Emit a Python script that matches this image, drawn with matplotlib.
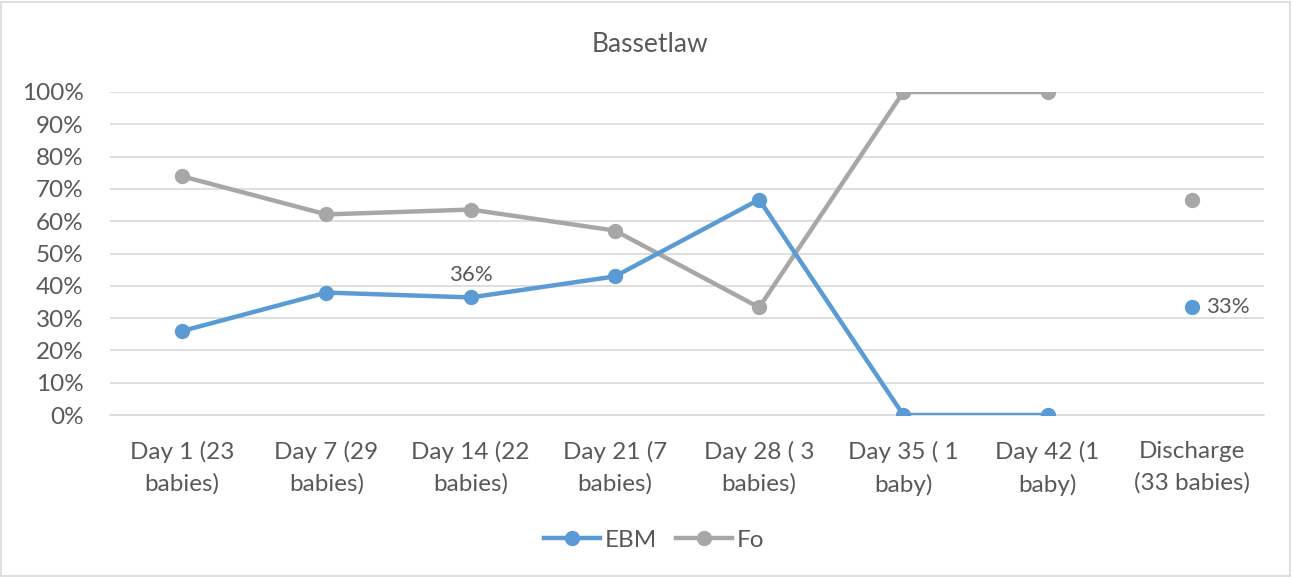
import matplotlib.pyplot as plt
from matplotlib.lines import Line2D
from matplotlib.patches import Rectangle
from matplotlib.ticker import PercentFormatter

plt.rcParams['font.family'] = ['Lato', 'DejaVu Sans']

categories = ['Day 1 (23\nbabies)', 'Day 7 (29\nbabies)', 'Day 14 (22\nbabies)',
              'Day 21 (7\nbabies)', 'Day 28 ( 3\nbabies)', 'Day 35 ( 1\nbaby)',
              'Day 42 (1\nbaby)', 'Discharge\n(33 babies)']
ebm = [0.26, 0.379, 0.364, 0.429, 0.667, 0.0, 0.0, 0.333]
fo = [0.739, 0.621, 0.636, 0.571, 0.333, 1.0, 1.0, 0.667]

blue = '#5B9BD5'
grey = '#A9A6A6'
txt = '#595959'
fs = 17.5

fig = plt.figure(figsize=(12.92, 5.77), dpi=100)
ax = fig.add_axes([110 / 1292, 1 - 415 / 577, 1154 / 1292, 323 / 577])

x = list(range(len(categories)))
# the last point (discharge) is not joined to the line
ax.plot(x[:7], ebm[:7], color=blue, lw=3.2, marker='o', ms=10, zorder=3)
ax.plot(x[7:], ebm[7:], color=blue, lw=0, marker='o', ms=10, zorder=3)
ax.plot(x[:7], fo[:7], color=grey, lw=3.2, marker='o', ms=10, zorder=2)
ax.plot(x[7:], fo[7:], color=grey, lw=0, marker='o', ms=10, zorder=2)

ax.annotate('36%', (x[2], ebm[2]), xytext=(0, 9), textcoords='offset points',
            ha='center', va='bottom', color=txt, fontsize=fs - 1.5)
ax.annotate('33%', (x[7], ebm[7]), xytext=(10, 0), textcoords='offset points',
            ha='left', va='center', color=txt, fontsize=fs - 1.5)

ax.set_xlim(-0.5, len(categories) - 0.5)
ax.set_ylim(0, 1)
ax.set_yticks([i / 10 for i in range(11)])
ax.yaxis.set_major_formatter(PercentFormatter(1.0, decimals=0))
ax.set_xticks(x)
ax.set_xticklabels(categories, linespacing=1.6)
ax.tick_params(axis='both', length=0, colors=txt, labelsize=fs)
ax.tick_params(axis='x', pad=18.5)
ax.tick_params(axis='y', pad=19)
ax.grid(axis='y', color='#D9D9D9', lw=1.2)
ax.set_axisbelow(True)
for s in ['top', 'right', 'left']:
    ax.spines[s].set_visible(False)
ax.spines['bottom'].set_color('#D9D9D9')
ax.spines['bottom'].set_linewidth(1.2)

fig.text(650 / 1292, 1 - 44 / 577, 'Bassetlaw', ha='center', va='center',
         color=txt, fontsize=fs + 1.5)

handles = [Line2D([], [], color=blue, lw=3.2, marker='o', ms=10),
           Line2D([], [], color=grey, lw=3.2, marker='o', ms=10)]
fig.legend(handles, ['EBM', 'Fo'], loc='center', bbox_to_anchor=(654 / 1292, 1 - 540 / 577),
           ncol=2, frameon=False, fontsize=fs, labelcolor=txt, handlelength=2.3,
           handletextpad=0.2, columnspacing=0.8)

fig.patches.append(Rectangle((1 / 1292, 1 / 577), 1289 / 1292, 574 / 577,
                             transform=fig.transFigure, fill=False,
                             edgecolor='#D9D9D9', lw=1.2))

fig.savefig('out.png', dpi=100)
